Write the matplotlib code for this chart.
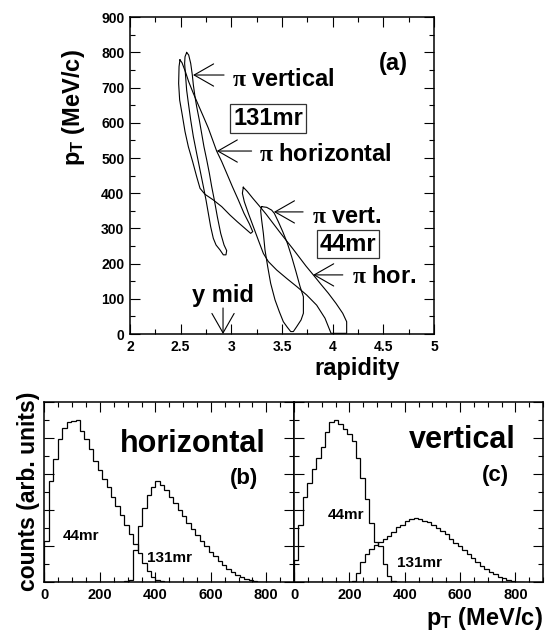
import matplotlib
matplotlib.use("Agg")
import matplotlib.pyplot as plt
import numpy as np
from matplotlib.ticker import MultipleLocator, FormatStrFormatter

plt.rcParams['font.family'] = 'Liberation Sans'
plt.rcParams['font.weight'] = 'bold'
plt.rcParams['mathtext.fontset'] = 'custom'
plt.rcParams['mathtext.rm'] = 'Liberation Serif'
plt.rcParams['mathtext.bf'] = 'Liberation Sans:bold'
plt.rcParams['mathtext.it'] = 'Liberation Serif:italic'

# ---- panel (a): acceptance contours (rapidity, pT in MeV/c)
hor131_y = [2.493, 2.513, 2.546, 2.579, 2.625, 2.674, 2.724, 2.773, 2.816, 2.855, 2.905, 2.954, 3.010,
            3.069, 3.125, 3.178, 3.211, 3.191, 3.135, 3.059, 2.987, 2.905, 2.822, 2.740, 2.691, 2.658,
            2.618, 2.576, 2.543, 2.516, 2.490, 2.480, 2.484, 2.493]
hor131_pt = [779, 771, 746, 717, 684, 651, 618, 585, 551, 520, 490, 457, 419, 381, 343, 313, 291, 286,
             300, 319, 338, 362, 381, 397, 414, 447, 490, 532, 575, 622, 665, 712, 760, 779]

ver131_y = [2.559, 2.579, 2.599, 2.615, 2.625, 2.641, 2.658, 2.684, 2.707, 2.730, 2.757, 2.783, 2.806,
            2.832, 2.862, 2.895, 2.928, 2.954, 2.947, 2.921, 2.888, 2.849, 2.822, 2.796, 2.773, 2.750,
            2.724, 2.691, 2.658, 2.625, 2.599, 2.576, 2.559, 2.549, 2.539, 2.543, 2.559]
ver131_pt = [800, 793, 769, 736, 708, 675, 646, 608, 570, 532, 495, 457, 419, 381, 333, 286, 253, 237,
             225, 225, 239, 253, 272, 305, 343, 381, 419, 466, 513, 561, 608, 656, 693, 731, 769, 788, 800]

hor44_y = [3.118, 3.109, 3.128, 3.168, 3.217, 3.266, 3.316, 3.365, 3.447, 3.546, 3.645, 3.743, 3.842,
           3.924, 3.984, 4.138, 4.138, 4.099, 4.033, 3.957, 3.882, 3.809, 3.737, 3.671, 3.605, 3.539,
           3.474, 3.408, 3.342, 3.276, 3.211, 3.158, 3.118]
hor44_pt = [417, 400, 376, 343, 305, 267, 229, 206, 182, 158, 135, 111, 82, 45, 2, 2, 35, 59, 87,
            116, 142, 168, 193, 218, 243, 267, 291, 316, 341, 364, 386, 405, 417]

ver44_y = [3.299, 3.349, 3.398, 3.424, 3.464, 3.507, 3.553, 3.595, 3.638, 3.678, 3.711, 3.711, 3.688,
           3.645, 3.612, 3.586, 3.553, 3.513, 3.474, 3.431, 3.388, 3.359, 3.332, 3.316, 3.299, 3.289, 3.299]
ver44_pt = [362, 360, 352, 343, 319, 291, 258, 220, 177, 135, 106, 59, 40, 21, 7, 7, 19, 35, 63, 97,
            144, 191, 239, 286, 324, 351, 362]

# ---- panels (b),(c): pT spectra, 16 MeV/c bins starting at 0
bin_w = 16
b_44 = [2.3, 5.6, 6.8, 7.95, 8.55, 8.85, 8.95, 9.0, 8.4, 7.95, 7.4, 6.7, 6.2, 5.7, 5.25, 4.7, 4.2,
        3.7, 3.2, 2.7, 2.1, 1.6, 1.05, 0.6, 0.3, 0.12, 0.05, 0.0]
b_131 = [0] * 17 + [0.02, 0.1, 0.15, 1.8, 3.1, 4.1, 4.85, 5.3, 5.6, 5.4, 5.1, 4.75, 4.4, 4.0, 3.65,
                    3.3, 2.95, 2.6, 2.3, 2.0, 1.7, 1.45, 1.2, 0.95, 0.75, 0.55, 0.4, 0.28, 0.18, 0.11,
                    0.07, 0.04, 0.02, 0.0]
c_44 = [1.25, 3.2, 4.7, 5.5, 6.3, 6.9, 7.5, 8.3, 8.9, 9.0, 8.75, 8.5, 8.2, 7.85, 6.9, 5.8, 4.6, 3.3,
        2.25, 2.0, 1.0, 0.35, 0.05, 0.0]
c_131 = [0] * 13 + [0.05, 0.5, 1.15, 1.55, 1.85, 2.05, 2.25, 2.4, 2.55, 2.8, 3.05, 3.2, 3.4, 3.5, 3.55,
                    3.5, 3.42, 3.33, 3.2, 2.98, 2.85, 2.65, 2.4, 2.2, 2.0, 1.78, 1.55, 1.35, 1.12, 0.92,
                    0.75, 0.58, 0.44, 0.32, 0.22, 0.14, 0.07, 0.03, 0.0]

fig = plt.figure(figsize=(5.46, 6.36), dpi=100)

def style_axes(ax):
    ax.tick_params(which='both', direction='in', top=True, right=True, width=0.8)
    ax.tick_params(which='major', length=7)
    ax.tick_params(which='minor', length=3.5)
    for s in ax.spines.values():
        s.set_linewidth(1.1)

# ---- top panel
ax = fig.add_axes([0.2381, 0.4748, 0.5568, 0.498])
for yy, pp in [(hor131_y, hor131_pt), (ver131_y, ver131_pt), (hor44_y, hor44_pt), (ver44_y, ver44_pt)]:
    ax.plot(yy, pp, color='black', lw=0.8)
ax.set_xlim(2, 5)
ax.set_ylim(0, 900)
ax.xaxis.set_major_locator(MultipleLocator(0.5))
ax.xaxis.set_minor_locator(MultipleLocator(0.25))
ax.yaxis.set_major_locator(MultipleLocator(100))
ax.yaxis.set_minor_locator(MultipleLocator(50))
ax.xaxis.set_major_formatter(FormatStrFormatter('%g'))
style_axes(ax)
ax.tick_params(labelsize=10, pad=4)

arrow = dict(arrowstyle='->,head_length=0.7,head_width=0.4', lw=0.8, color='black',
             shrinkA=0, shrinkB=0, mutation_scale=20)
ax.annotate('', xy=(2.622, 736), xytext=(2.928, 736), arrowprops=arrow)
ax.annotate('', xy=(2.856, 520), xytext=(3.20, 520), arrowprops=arrow)
ax.annotate('', xy=(3.42, 347), xytext=(3.708, 347), arrowprops=arrow)
ax.annotate('', xy=(3.807, 168), xytext=(4.10, 168), arrowprops=arrow)
ax.annotate('', xy=(2.918, 0), xytext=(2.918, 74), arrowprops=arrow)

ax.text(3.007, 705, r'$\mathrm{\pi}$ vertical', fontsize=17, va='baseline')
ax.text(3.273, 492, r'$\mathrm{\pi}$ horizontal', fontsize=17, va='baseline')
ax.text(3.796, 316, r'$\mathrm{\pi}$ vert.', fontsize=17, va='baseline')
ax.text(4.191, 144, r'$\mathrm{\pi}$ hor.', fontsize=17, va='baseline')
box = dict(boxstyle='square,pad=0.12', fc='white', ec='#333333', lw=0.9)
ax.text(3.362, 594, '131mr', fontsize=17, ha='center', va='baseline', bbox=box)
ax.text(4.151, 237, '44mr', fontsize=17, ha='center', va='baseline', bbox=box)
ax.text(4.595, 750, '(a)', fontsize=17, ha='center', va='baseline')
ax.text(2.918, 92, 'y mid', fontsize=17, ha='center', va='baseline')

fig.text(0.1355, 0.831, r'$\mathbf{p_{T}}$ (MeV/c)', fontsize=17, rotation=90, ha='center', va='center')
fig.text(0.654, 0.4104, 'rapidity', fontsize=17, ha='center', va='baseline')

# ---- bottom panels
def spectrum_panel(rect, h44, h131, title, tag, pos):
    a = fig.add_axes(rect)
    a.stairs(h44, np.arange(len(h44) + 1) * bin_w, color='black', lw=0.9)
    a.stairs(h131, np.arange(len(h131) + 1) * bin_w, color='black', lw=0.9)
    a.set_xlim(0, 900)
    a.set_ylim(0, 10)
    a.xaxis.set_major_locator(MultipleLocator(200))
    a.xaxis.set_minor_locator(MultipleLocator(50))
    a.yaxis.set_major_locator(MultipleLocator(2))
    a.yaxis.set_minor_locator(MultipleLocator(1))
    style_axes(a)
    a.tick_params(labelsize=10.5, pad=4, labelleft=False)
    a.text(pos[0][0], pos[0][1], title, fontsize=22, ha='center', va='baseline', transform=a.transAxes)
    a.text(pos[1][0], pos[1][1], tag, fontsize=16, ha='center', va='baseline', transform=a.transAxes)
    a.text(pos[2][0], pos[2][1], '44mr', fontsize=11, ha='center', va='baseline', transform=a.transAxes)
    a.text(pos[3][0], pos[3][1], '131mr', fontsize=11, ha='center', va='baseline', transform=a.transAxes)
    return a

spectrum_panel([0.0815, 0.0844, 0.4570, 0.284], b_44, b_131, 'horizontal', '(b)',
               [(0.595, 0.7215), (0.80, 0.544), (0.146, 0.234), (0.499, 0.112)])
spectrum_panel([0.5385, 0.0844, 0.4560, 0.284], c_44, c_131, 'vertical', '(c)',
               [(0.675, 0.744), (0.809, 0.561), (0.207, 0.35), (0.504, 0.085)])

fig.text(0.053, 0.228, 'counts (arb. units)', fontsize=16.5, rotation=90, ha='center', va='center')
fig.text(0.9945, 0.0173, r'$\mathbf{p_{T}}$ (MeV/c)', fontsize=17, ha='right', va='baseline')

fig.savefig('out.png', dpi=100)
